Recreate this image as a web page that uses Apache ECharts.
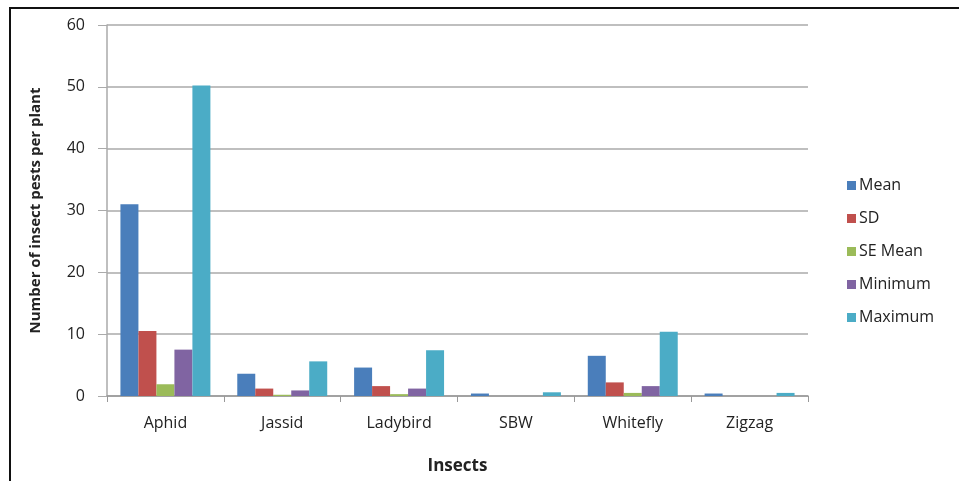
<!DOCTYPE html>
<html><head><meta charset="utf-8">
<script src="https://cdn.jsdelivr.net/npm/echarts@6/dist/echarts.min.js"></script>
<style>
html,body{margin:0;padding:0;background:#fff;}
#frame{position:absolute;left:9px;top:7px;width:950px;height:474px;border-left:2px solid #111;border-top:2px solid #111;box-sizing:border-box;}
#c{position:absolute;left:0;top:0;width:959px;height:481px;}
</style></head>
<body>
<div id="c"></div>
<div id="frame"></div>
<script>
const categories = ['Aphid','Jassid','Ladybird','SBW','Whitefly','Zigzag'];
const seriesNames = ['Mean','SD','SE Mean','Minimum','Maximum'];
const meanVals = [31.0, 3.6, 4.6, 0.4, 6.5, 0.4];
const sdVals = [10.5, 1.2, 1.6, 0.0, 2.2, 0.0];
const seMeanVals = [1.9, 0.2, 0.3, 0.0, 0.5, 0.0];
const minVals = [7.5, 0.9, 1.2, 0.0, 1.6, 0.0];
const maxVals = [50.2, 5.6, 7.4, 0.6, 10.4, 0.5];
const colors = ['#4a7ebb','#c0504d','#9bbb59','#8064a2','#4bacc6'];
const yTicks = [0,10,20,30,40,50,60];

const dataSets = [meanVals, sdVals, seMeanVals, minVals, maxVals];
const chart = echarts.init(document.getElementById('c'));
const font = "'Open Sans', 'Liberation Sans', sans-serif";
chart.setOption({
  animation:false,
  textStyle:{fontFamily:font},
  grid:{left:107,right:151,top:25,bottom:85,containLabel:false},
  legend:{
    orient:'vertical', left:842, top:171, itemGap:14, itemWidth:9, itemHeight:9,
    icon:'rect',
    textStyle:{fontSize:16, color:'#222', fontFamily:font, padding:[0,0,0,-2], lineHeight:19},
    data:seriesNames
  },
  xAxis:{
    type:'category', data:categories,
    name:'Insects', nameLocation:'middle', nameGap:62,
    nameTextStyle:{fontSize:17,fontWeight:'bold',color:'#222'},
    axisLine:{lineStyle:{color:'#999',width:1.5}},
    axisTick:{show:true,length:6,lineStyle:{color:'#999'}},
    axisLabel:{fontSize:16,color:'#222',margin:19}
  },
  yAxis:{
    type:'value', min:yTicks[0], max:yTicks[yTicks.length-1], interval:10,
    name:'Number of insect pests per plant', nameLocation:'middle', nameGap:64,
    nameTextStyle:{fontSize:15,fontWeight:'bold',color:'#222'},
    axisLine:{show:true,lineStyle:{color:'#aaa',width:1.5}},
    axisTick:{show:true,length:9,lineStyle:{color:'#aaa'}},
    axisLabel:{fontSize:16,color:'#222',margin:22},
    splitLine:{lineStyle:{color:'#aaa',width:1.5}}
  },
  series: seriesNames.map((n,i)=>({
    name:n, type:'bar', data:dataSets[i],
    itemStyle:{color:colors[i]},
    barGap:'0%', barCategoryGap:'23%'
  }))
});
</script>
</body></html>
